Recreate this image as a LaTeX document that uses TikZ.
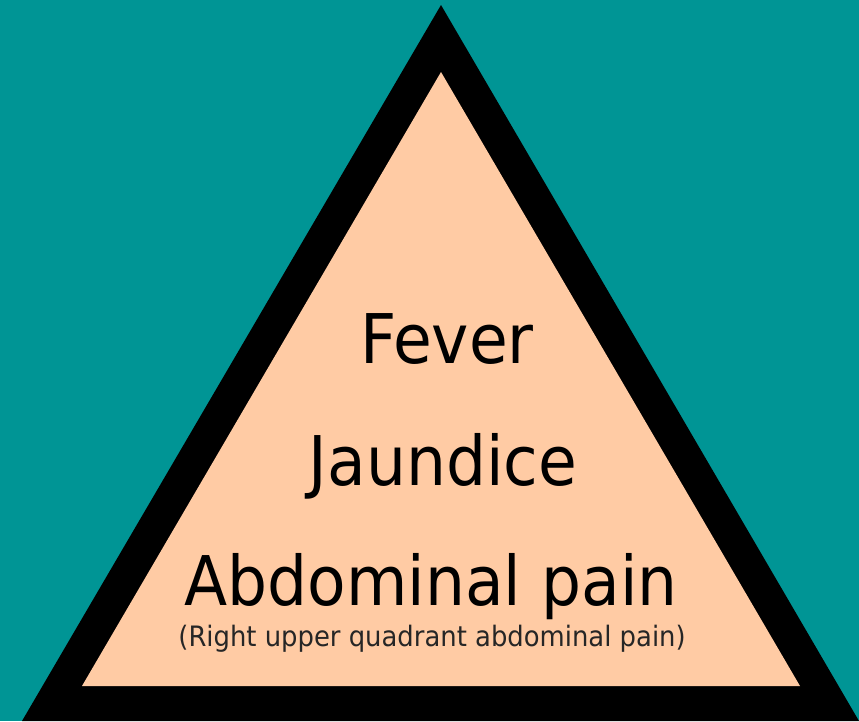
\documentclass[tikz,border=0pt]{standalone}
\usepackage{fontspec}
\newfontfamily\trifont[FakeStretch=0.92]{DejaVu Sans}
\usetikzlibrary{positioning}
\definecolor{bgTeal}{HTML}{009595}
\definecolor{triPeach}{HTML}{FFCBA4}
\definecolor{dark}{HTML}{000000}
\tikzset{
  symptom/.style={anchor=base, inner sep=0pt, text=dark,
                  font=\trifont\fontsize{39}{44}\selectfont},
  subnote/.style={anchor=base, inner sep=0pt, text=dark!85,
                  font=\trifont\fontsize{16}{19}\selectfont},
}

\begin{document}
\begin{tikzpicture}[x=0.02cm, y=-0.02cm]

% --- background ---
\fill[bgTeal] (0,0) rectangle (859,721);
\useasboundingbox (0,0) rectangle (859,721);

% --- triangle: black frame, peach inside ---
\fill[dark] (441,5) -- (22,721) -- (859,721) -- cycle;
\fill[triPeach] (441,72) -- (82,686) -- (800,686) -- cycle;

% --- the triad ---
\node[symptom] (fever)    at (447,363) {Fever};
\node[symptom] (jaundice) at (443,485) {Jaundice};
\node[symptom] (pain)     at (431,605) {Abdominal pain};
\node[subnote] (painnote) at (432,646) {(Right upper quadrant abdominal pain)};

\end{tikzpicture}
\end{document}
